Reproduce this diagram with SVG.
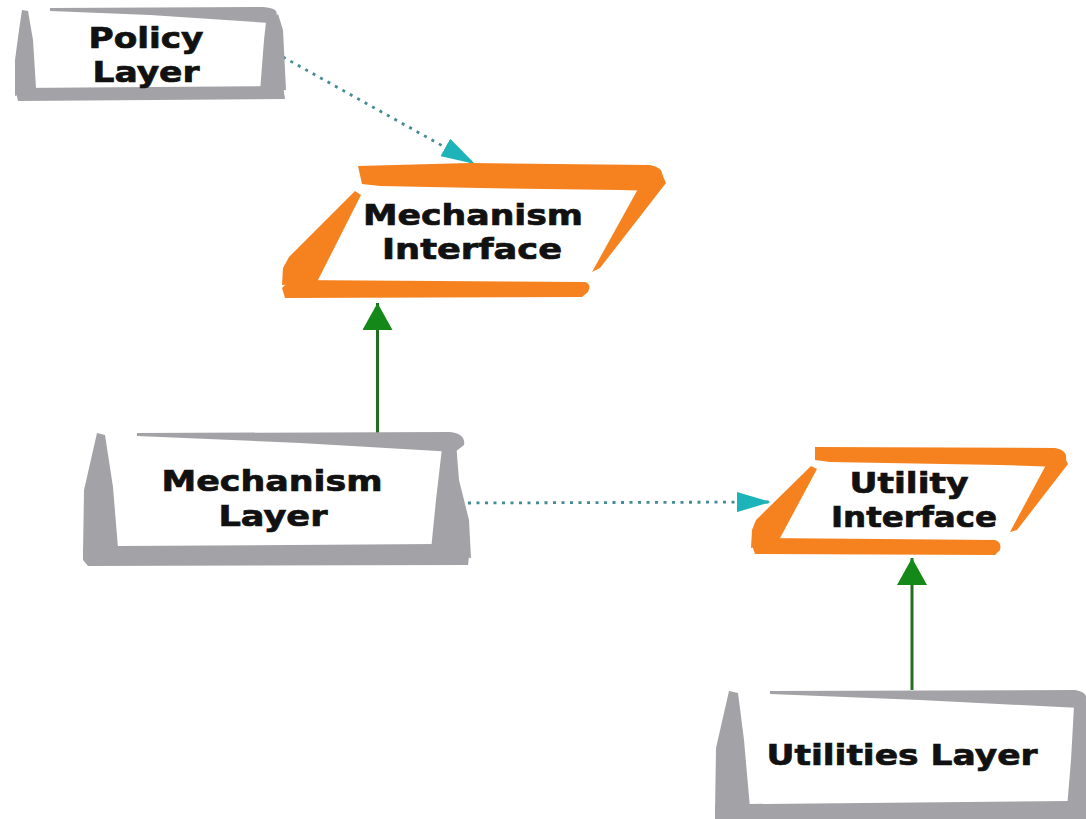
<svg xmlns="http://www.w3.org/2000/svg" width="1086" height="819" viewBox="0 0 1086 819">
  <style>
    .frame { fill: #a3a3a7; }
    .iface { fill: #f5821f; }
    .label { font-family: "DejaVu Sans", Verdana, sans-serif; font-weight: bold; font-size: 28px; fill: #111; stroke: #111; stroke-width: 0.7; text-anchor: middle; }
    .dotted { fill: none; stroke: #448c93; stroke-width: 2.8; stroke-dasharray: 3 5.5; }
    .solid { fill: none; stroke: #226f22; stroke-width: 3; }
  </style>
  <defs>
    <marker id="tealHead" viewBox="0 0 34 20" refX="34" refY="10" markerWidth="34" markerHeight="20" markerUnits="userSpaceOnUse" orient="auto">
      <path d="M0,0 L34,10 L0,20 Z" fill="#1cb4b8"/>
    </marker>
    <marker id="greenHead" viewBox="0 0 27 30" refX="27" refY="15" markerWidth="27" markerHeight="30" markerUnits="userSpaceOnUse" orient="auto">
      <path d="M0,0 L27,15 L0,30 Z" fill="#14891a"/>
    </marker>
  </defs>
  <rect width="1086" height="819" fill="#fff"/>

  <!-- connectors -->
  <g id="connectors">
    <path class="dotted" d="M283,57 L475,164" marker-end="url(#tealHead)"/>
    <path class="dotted" d="M468,503 L771,502" marker-end="url(#tealHead)"/>
    <path class="solid" d="M377.5,433 L377.5,303" marker-end="url(#greenHead)"/>
    <path class="solid" d="M912,690 L912,558" marker-end="url(#greenHead)"/>
  </g>

  <!-- Policy Layer -->
  <g id="policy-layer">
    <path class="frame" d="M50,8 L262,7 Q280,8 276,16 L270,23 L150,15 L50,11 Z"/>
    <path class="frame" d="M22,10 L28,11 L33,40 L36,88 L15,96 L15,60 L19,30 Z"/>
    <path class="frame" d="M266,22 L278,14 L283,30 L286,90 L260,92 L264,40 Z"/>
    <path class="frame" d="M15,88 L283,86 L285,99 L18,101 Z"/>
    <text class="label" x="146" y="48" textLength="115" lengthAdjust="spacingAndGlyphs">Policy</text>
    <text class="label" x="146" y="82" textLength="107" lengthAdjust="spacingAndGlyphs">Layer</text>
  </g>

  <!-- Mechanism Interface -->
  <g id="mechanism-interface">
    <path class="iface" d="M358,166 L470,163 L650,165 Q665,168 662,178 L655,191 L620,190 L480,188 L380,186 L362,184 Z"/>
    <path class="iface" d="M638,189 L662,174 L666,183 L600,268 L592,272 Z"/>
    <path class="iface" d="M355,191 L361,195 L317,282 L282,285 L283,268 L289,257 Z"/>
    <path class="iface" d="M290,280 L585,282 Q592,284 588,292 L582,297 L285,298 L282,288 Z"/>
    <text class="label" x="473" y="225" textLength="220" lengthAdjust="spacingAndGlyphs">Mechanism</text>
    <text class="label" x="472" y="259" textLength="180" lengthAdjust="spacingAndGlyphs">Interface</text>
  </g>

  <!-- Mechanism Layer -->
  <g id="mechanism-layer">
    <path class="frame" d="M137,433 L450,432 Q466,434 464,445 L455,452 L300,443 L137,436 Z"/>
    <path class="frame" d="M97,433 L105,435 L113,487 L118,548 L83,555 L84,490 Z"/>
    <path class="frame" d="M442,448 L456,442 L459,480 L469,520 L471,558 L431,550 L436,500 Z"/>
    <path class="frame" d="M83,548 L117,546 L437,544 L470,548 L468,565 L88,566 L83,560 Z"/>
    <text class="label" x="272" y="491" textLength="221" lengthAdjust="spacingAndGlyphs">Mechanism</text>
    <text class="label" x="273" y="526" textLength="109" lengthAdjust="spacingAndGlyphs">Layer</text>
  </g>

  <!-- Utility Interface -->
  <g id="utility-interface">
    <path class="iface" d="M815,447 L1055,448 Q1068,450 1066,460 L1060,467 L1000,465 L830,462 L815,460 Z"/>
    <path class="iface" d="M1046,465 L1064,456 L1068,464 L1017,530 L1010,532 Z"/>
    <path class="iface" d="M811,466 L817,469 L779,540 L751,548 L752,530 L756,520 Z"/>
    <path class="iface" d="M760,538 L995,540 Q1002,542 1000,550 L995,555 L755,554 L752,545 Z"/>
    <text class="label" x="909" y="493" textLength="119" lengthAdjust="spacingAndGlyphs">Utility</text>
    <text class="label" x="914" y="527" textLength="166" lengthAdjust="spacingAndGlyphs">Interface</text>
  </g>

  <!-- Utilities Layer -->
  <g id="utilities-layer">
    <path class="frame" d="M770,691 L1075,690 Q1088,692 1086,700 L1080,708 L920,700 L770,694 Z"/>
    <path class="frame" d="M729,691 L738,693 L744,740 L750,808 L715,812 L716,748 Z"/>
    <path class="frame" d="M1074,706 L1086,700 L1086,815 L1067,808 L1071,760 Z"/>
    <path class="frame" d="M715,805 L750,804 L1070,801 L1086,802 L1086,819 L715,819 Z"/>
    <text class="label" x="902" y="765" textLength="271" lengthAdjust="spacingAndGlyphs">Utilities Layer</text>
  </g>
</svg>
